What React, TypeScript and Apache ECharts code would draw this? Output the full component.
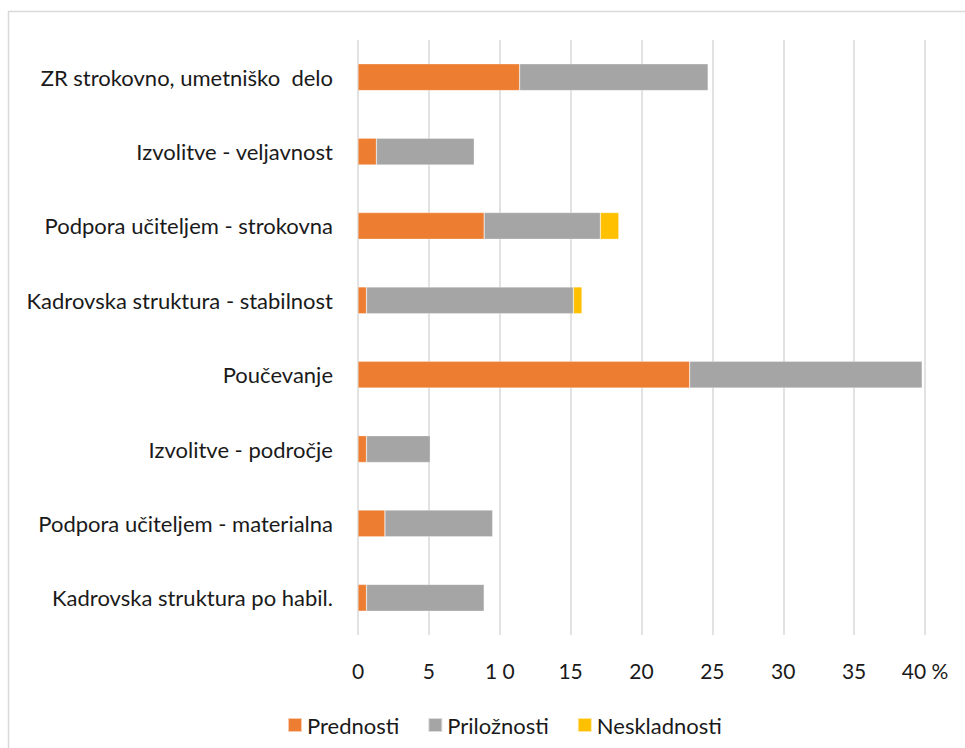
import React, { useEffect, useRef } from "react";
import * as echarts from "echarts";

const categories = [
  "ZR strokovno, umetniško  delo",
  "Izvolitve - veljavnost",
  "Podpora učiteljem - strokovna",
  "Kadrovska struktura - stabilnost",
  "Poučevanje",
  "Izvolitve - področje",
  "Podpora učiteljem - materialna",
  "Kadrovska struktura po habil.",
];
const prednosti = [11.4, 1.3, 8.9, 0.6, 23.4, 0.6, 1.9, 0.6];
const priloznosti = [13.3, 6.9, 8.2, 14.6, 16.4, 4.5, 7.6, 8.3];
const neskladnosti = [0, 0, 1.3, 0.6, 0, 0, 0, 0];
const xTickLabels = ["0", "5", "1 0", "15", "20", "25", "30", "35", "40 %"];
const seriesNames = ["Prednosti", "Priložnosti", "Neskladnosti"];
const colors = ["#ED7D31", "#A5A5A5", "#FFC000"];

const FONT = "Lato, 'Open Sans', sans-serif";

export default function App() {
  const ref = useRef<HTMLDivElement>(null);
  useEffect(() => {
    if (!ref.current) return;
    const chart = echarts.init(ref.current, undefined, { renderer: "svg" });
    const dataSets = [prednosti, priloznosti, neskladnosti];
    chart.setOption({
      animation: false,
      backgroundColor: "#ffffff",
      textStyle: { fontFamily: FONT },
      graphic: [
        {
          type: "rect",
          shape: { x: 8.5, y: 11.5, width: 1000, height: 800 },
          style: { fill: "none", stroke: "#d9d9d9", lineWidth: 1.5 },
          silent: true,
        },
      ],
      legend: {
        left: 282,
        top: 709,
        itemWidth: 14,
        itemHeight: 14,
        itemGap: 28,
        icon: "rect",
        textStyle: { fontSize: 22, color: "#1a1a1a", fontFamily: FONT },
        data: seriesNames,
      },
      grid: { left: 358, right: 40, top: 40, bottom: 113, containLabel: false },
      xAxis: {
        type: "value",
        min: 0,
        max: 40,
        interval: 5,
        axisLine: { show: false },
        axisTick: { show: false },
        splitLine: { show: true, lineStyle: { color: "#d9d9d9", width: 1.5 } },
        axisLabel: {
          margin: 25,
          fontSize: 21,
          color: "#1a1a1a",
          fontFamily: FONT,
          formatter: (v: number) => xTickLabels[Math.round(v / 5)],
        },
      },
      yAxis: {
        type: "category",
        inverse: true,
        data: categories,
        axisLine: { show: false },
        axisTick: { show: false },
        axisLabel: { margin: 25, fontSize: 22, color: "#1a1a1a", fontFamily: FONT },
      },
      series: seriesNames.map((name, i) => ({
        name,
        type: "bar",
        stack: "total",
        barWidth: "36%",
        itemStyle: { color: colors[i], borderColor: "rgba(255,255,255,0.6)", borderWidth: 0.5 },
        data: dataSets[i].map((v) => (v === 0 ? null : v)),
      })),
    });
    return () => chart.dispose();
  }, []);
  return (
    <div
      ref={ref}
      style={{ position: "fixed", left: 0, top: 0, width: 965, height: 748 }}
    />
  );
}
